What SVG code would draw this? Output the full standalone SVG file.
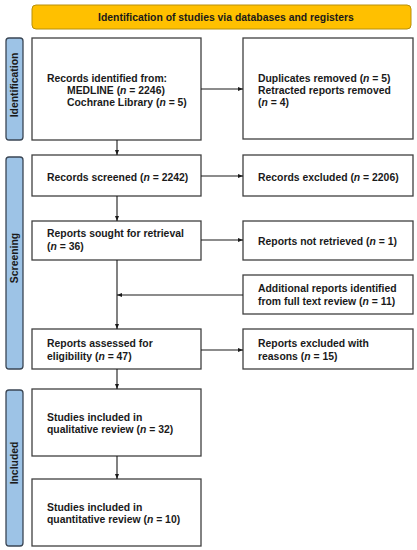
<svg xmlns="http://www.w3.org/2000/svg" width="417" height="550" viewBox="0 0 417 550">
<defs>
<style>
.box{fill:#fff;stroke:#404040;stroke-width:1.3}
.side{fill:#9DC3E6;stroke:#3a4654;stroke-width:1.3}
.banner{fill:#FFC000;stroke:#B8900A;stroke-width:1}
text{font-family:"Liberation Sans",Arial,sans-serif;font-weight:bold;font-size:10.4px;fill:#1a1a1a}
.c{fill:none;stroke:#1a1a1a;stroke-width:1.1}
</style>
<marker id="ah" viewBox="0 0 10 10" refX="10" refY="5" markerWidth="5" markerHeight="5" orient="auto" markerUnits="userSpaceOnUse">
<path d="M0,1 L10,5 L0,9 z" fill="#1a1a1a"/>
</marker>
</defs>
<rect width="417" height="550" fill="#fff"/>
<g id="banner">
<rect class="banner" x="32" y="5" width="379" height="24" rx="4"/>
<text x="226" y="20.5" text-anchor="middle">Identification of studies via databases and registers</text>
</g>
<g id="side-identification">
<rect class="side" x="6" y="38" width="17" height="102" rx="3"/>
<text transform="translate(18.3,85) rotate(-90)" text-anchor="middle">Identification</text>
</g>
<g id="side-screening">
<rect class="side" x="6" y="157" width="17" height="212" rx="3"/>
<text transform="translate(18.3,258) rotate(-90)" text-anchor="middle">Screening</text>
</g>
<g id="side-included">
<rect class="side" x="6" y="390" width="17" height="156" rx="3"/>
<text transform="translate(18.3,463) rotate(-90)" text-anchor="middle">Included</text>
</g>
<g id="records-identified">
<rect class="box" x="32" y="38" width="169" height="102"/>
<text x="47" y="82">Records identified from:</text>
<text x="67" y="93.8">MEDLINE (<tspan font-style="italic">n</tspan> = 2246)</text>
<text x="67" y="105.6">Cochrane Library (<tspan font-style="italic">n</tspan> = 5)</text>
</g>
<g id="duplicates-removed">
<rect class="box" x="243" y="38" width="170" height="101"/>
<text x="258" y="82">Duplicates removed (<tspan font-style="italic">n</tspan> = 5)</text>
<text x="258" y="93.8">Retracted reports removed</text>
<text x="258" y="105.6">(<tspan font-style="italic">n</tspan> = 4)</text>
</g>
<g id="records-screened">
<rect class="box" x="32" y="155" width="169" height="41"/>
<text x="47" y="181">Records screened (<tspan font-style="italic">n</tspan> = 2242)</text>
</g>
<g id="records-excluded">
<rect class="box" x="243" y="155" width="170" height="41"/>
<text x="258" y="181">Records excluded (<tspan font-style="italic">n</tspan> = 2206)</text>
</g>
<g id="reports-sought">
<rect class="box" x="32" y="221" width="169" height="39"/>
<text x="47" y="237.3">Reports sought for retrieval</text>
<text x="47" y="249.6">(<tspan font-style="italic">n</tspan> = 36)</text>
</g>
<g id="reports-not-retrieved">
<rect class="box" x="243" y="221" width="170" height="39"/>
<text x="258" y="244.5">Reports not retrieved (<tspan font-style="italic">n</tspan> = 1)</text>
</g>
<g id="additional-reports">
<rect class="box" x="243" y="275" width="170" height="39"/>
<text x="258" y="291.7">Additional reports identified</text>
<text x="258" y="304.6">from full text review (<tspan font-style="italic">n</tspan> = 11)</text>
</g>
<g id="reports-assessed">
<rect class="box" x="32" y="329" width="169" height="40"/>
<text x="47" y="346.7">Reports assessed for</text>
<text x="47" y="359.6">eligibility (<tspan font-style="italic">n</tspan> = 47)</text>
</g>
<g id="reports-excluded">
<rect class="box" x="243" y="329" width="170" height="40"/>
<text x="258" y="346.7">Reports excluded with</text>
<text x="258" y="359.6">reasons (<tspan font-style="italic">n</tspan> = 15)</text>
</g>
<g id="studies-qualitative">
<rect class="box" x="32" y="389" width="169" height="67"/>
<text x="47" y="420.7">Studies included in</text>
<text x="47" y="433.3">qualitative review (<tspan font-style="italic">n</tspan> = 32)</text>
</g>
<g id="studies-quantitative">
<rect class="box" x="32" y="479" width="169" height="67"/>
<text x="47" y="510.7">Studies included in</text>
<text x="47" y="522.7">quantitative review (<tspan font-style="italic">n</tspan> = 10)</text>
</g>
<g id="connectors">
<path class="c" d="M117,140 V155" marker-end="url(#ah)"/>
<path class="c" d="M201,89 H243" marker-end="url(#ah)"/>
<path class="c" d="M201,176 H243" marker-end="url(#ah)"/>
<path class="c" d="M117,196 V221" marker-end="url(#ah)"/>
<path class="c" d="M201,240 H243" marker-end="url(#ah)"/>
<path class="c" d="M117,260 V329" marker-end="url(#ah)"/>
<path class="c" d="M243,295 H117" marker-end="url(#ah)"/>
<path class="c" d="M201,350 H243" marker-end="url(#ah)"/>
<path class="c" d="M117,369 V389" marker-end="url(#ah)"/>
<path class="c" d="M117,456 V479" marker-end="url(#ah)"/>
</g>
</svg>
